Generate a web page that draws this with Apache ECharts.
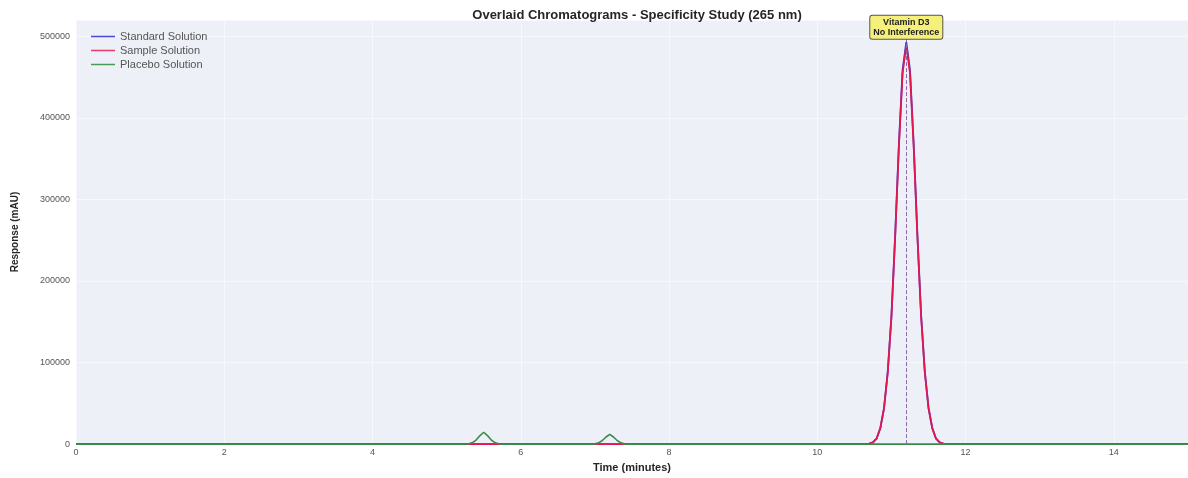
<!DOCTYPE html>
<html>
<head>
<meta charset="utf-8">
<script src="https://cdn.jsdelivr.net/npm/echarts@6/dist/echarts.min.js"></script>
<style>html,body{margin:0;padding:0;background:#fff}#c{width:1188px;height:478px}</style>
</head>
<body>
<div id="c"></div>
<script>
// Main peak (Vitamin D3) sample times, minutes
const mainTimes = [0, 10.65, 10.7, 10.75, 10.8, 10.85, 10.9, 10.95, 11.0, 11.05, 11.1, 11.15, 11.2,
  11.25, 11.3, 11.35, 11.4, 11.45, 11.5, 11.55, 11.6, 11.65, 11.7, 11.75, 15];
const standardResp = [0, 0, 500, 2000, 6900, 19700, 44400, 88700, 157800, 256400, 367300, 458500, 493000,
  458500, 367300, 256400, 157800, 88700, 44400, 19700, 6900, 2000, 500, 0, 0];
const sampleResp = [0, 0, 500, 2000, 6800, 19600, 44000, 88000, 156500, 254300, 364300, 454800, 489000,
  454800, 364300, 254300, 156500, 88000, 44000, 19600, 6800, 2000, 500, 0, 0];
// Placebo (excipient peaks only)
const placeboTimes = [0, 5.25, 5.3, 5.35, 5.4, 5.45, 5.5, 5.55, 5.6, 5.65, 5.7, 5.75,
  6.95, 7.0, 7.05, 7.1, 7.15, 7.2, 7.25, 7.3, 7.35, 7.4, 7.45, 15];
const placeboResp = [0, 0, 400, 1800, 5300, 10500, 14500, 10500, 5300, 1800, 400, 0,
  0, 300, 1500, 4400, 8700, 12000, 8700, 4400, 1500, 300, 0, 0];
const seriesNames = ['Standard Solution', 'Sample Solution', 'Placebo Solution'];
const peakTime = 11.2;
const peakLabel = 'Vitamin D3\nNo Interference';

const pair = (t, v) => t.map((x, i) => [x, v[i]]);
const font = 'Liberation Sans, Arial, sans-serif';
const chart = echarts.init(document.getElementById('c'));
chart.setOption({
  animation: false,
  backgroundColor: '#ffffff',
  title: {
    text: 'Overlaid Chromatograms - Specificity Study (265 nm)',
    left: 632, top: 4, textAlign: 'center',
    textStyle: {fontFamily: font, fontSize: 13, fontWeight: 'bold', color: '#262626'}
  },
  legend: {
    orient: 'vertical', left: 86, top: 26, itemGap: 3, itemWidth: 24, itemHeight: 1.5,
    icon: 'rect',
    textStyle: {fontFamily: font, fontSize: 11, color: '#555'},
    data: seriesNames
  },
  grid: {left: 76, right: 0, top: 20, bottom: 30, show: true, backgroundColor: '#eef0f8', borderWidth: 0},
  xAxis: {
    type: 'value', min: 0, max: 15, interval: 2,
    name: 'Time (minutes)', nameLocation: 'middle', nameGap: 13,
    nameTextStyle: {fontFamily: font, fontSize: 11, fontWeight: 'bold', color: '#262626'},
    axisLine: {show: false}, axisTick: {show: false},
    axisLabel: {fontFamily: font, fontSize: 9, color: '#555', margin: 4, showMaxLabel: false,
      formatter: v => String(v)},
    splitLine: {show: true, lineStyle: {color: '#f7f8fc', width: 1}}
  },
  yAxis: {
    type: 'value', min: 0, max: 520000, interval: 100000,
    name: 'Response (mAU)', nameLocation: 'middle', nameGap: 56,
    nameTextStyle: {fontFamily: font, fontSize: 10, fontWeight: 'bold', color: '#262626'},
    axisLine: {show: false}, axisTick: {show: false},
    axisLabel: {fontFamily: font, fontSize: 9, color: '#555', margin: 6, showMaxLabel: false,
      formatter: v => String(v)},
    splitLine: {show: true, lineStyle: {color: '#f7f8fc', width: 1}}
  },
  series: [
    {name: seriesNames[0], type: 'line', symbol: 'none', data: pair(mainTimes, standardResp),
      lineStyle: {color: '#3b3bd0', width: 1.8}, itemStyle: {color: '#4a4ad8'},
      markLine: {silent: true, symbol: 'none', label: {show: false},
        lineStyle: {color: '#8a6aa8', type: 'dashed', width: 1},
        data: [{xAxis: peakTime}]}},
    {name: seriesNames[1], type: 'line', symbol: 'none', data: pair(mainTimes, sampleResp),
      lineStyle: {color: '#e3174f', width: 1.8}, itemStyle: {color: '#ea3a65'}},
    {name: seriesNames[2], type: 'line', symbol: 'none', data: pair(placeboTimes, placeboResp),
      lineStyle: {color: '#3a8a4a', width: 1.6}, itemStyle: {color: '#4a9a5a'},
      markPoint: {silent: true, symbol: 'rect', symbolSize: 0,
        data: [{coord: [peakTime, 511000]}],
        label: {show: true, position: 'inside', formatter: peakLabel,
          fontFamily: font, fontSize: 9, fontWeight: 'bold', color: '#222', lineHeight: 10,
          backgroundColor: '#f5f07a', borderColor: '#555', borderWidth: 1, borderRadius: 2,
          padding: [2, 3, 1, 3], align: 'center'}}}
  ]
});
</script>
</body>
</html>
